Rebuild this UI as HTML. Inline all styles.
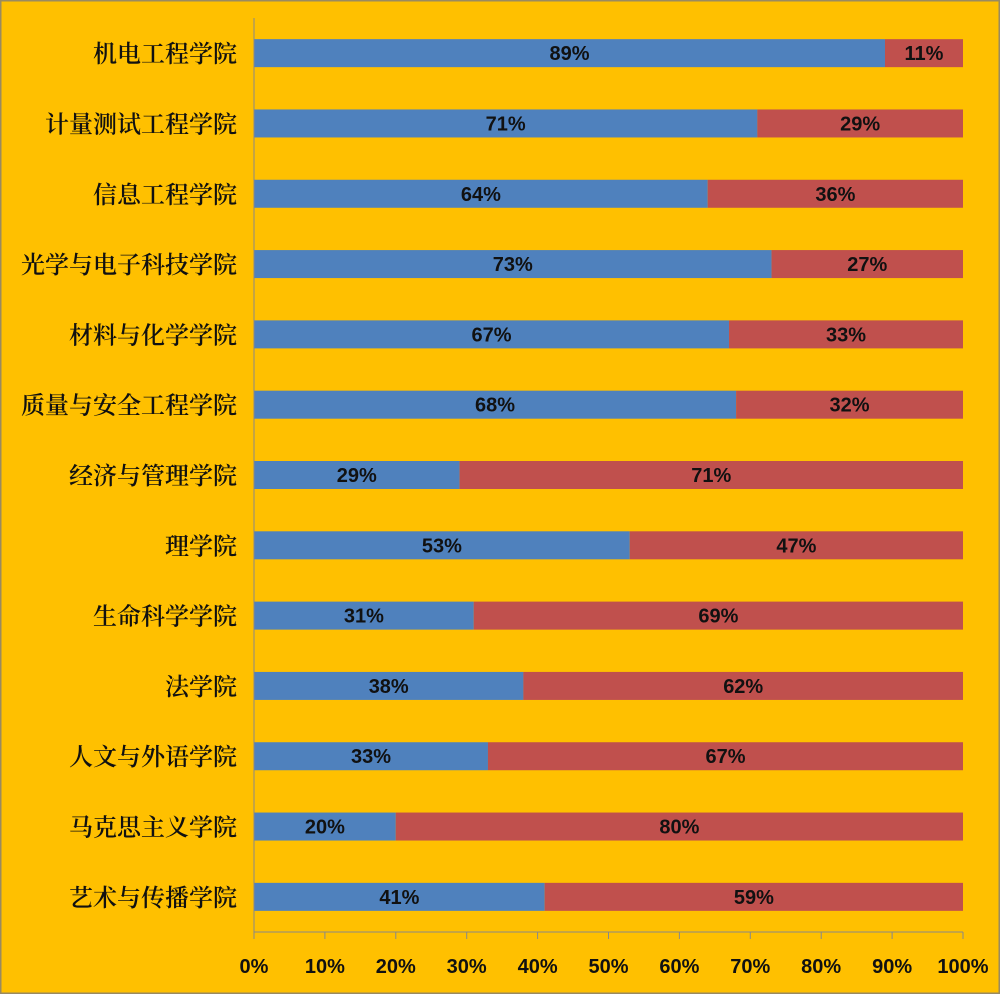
<!DOCTYPE html>
<html><head><meta charset="utf-8"><style>
body{margin:0;background:#FFC000;}
svg{display:block;font-family:"Liberation Sans","Noto Sans CJK SC",sans-serif;}
</style></head><body>
<svg id="c" width="1000" height="994">
<rect x="0" y="0" width="1000" height="994" fill="#FFC000" stroke="#9a8a60" stroke-width="3"/>
<g id="g"></g>
</svg>
<script>
const categories=["机电工程学院","计量测试工程学院","信息工程学院","光学与电子科技学院","材料与化学学院","质量与安全工程学院","经济与管理学院","理学院","生命科学学院","法学院","人文与外语学院","马克思主义学院","艺术与传播学院"];
const seriesA=[89,71,64,73,67,68,29,53,31,38,33,20,41];
const seriesB=[11,29,36,27,33,32,71,47,69,62,67,80,59];
const tickLabels=["0%","10%","20%","30%","40%","50%","60%","70%","80%","90%","100%"];
const ns="http://www.w3.org/2000/svg";
const g=document.getElementById('g');
const x0=254,x1=963,yTop=18,yAxis=932;
const band=(yAxis-yTop)/categories.length;
const xs=v=>x0+(v/100)*(x1-x0);
const yc=i=>yTop+band*(i+0.5);
function mk(t,a){const e=document.createElementNS(ns,t);for(const k in a)e.setAttribute(k,a[k]);g.appendChild(e);return e;}
categories.forEach((c,i)=>{
  const y=yc(i),h=28;
  const b1=mk('rect',{x:xs(0),y:y-h/2,width:xs(seriesA[i])-xs(0),height:h,fill:'#4F81BD'});
  
  
  const b2=mk('rect',{x:xs(seriesA[i]),y:y-h/2,width:xs(seriesA[i]+seriesB[i])-xs(seriesA[i]),height:h,fill:'#C0504D'});
  
  
  const t1=mk('text',{x:(xs(0)+xs(seriesA[i]))/2,y:y+7,'text-anchor':'middle','font-size':20,'font-weight':'bold',fill:'#111'});
  t1.textContent=seriesA[i]+'%';
  
  
  const t2=mk('text',{x:(xs(seriesA[i])+xs(seriesA[i]+seriesB[i]))/2,y:y+7,'text-anchor':'middle','font-size':20,'font-weight':'bold',fill:'#111'});
  t2.textContent=seriesB[i]+'%';
  
  
  const lb=mk('text',{x:237,y:y+9,'text-anchor':'end','font-size':24,'font-weight':600,fill:'#111','font-family':'"Noto Serif CJK SC","Noto Sans CJK SC",serif'});
  lb.textContent=c;
  
  
});
const ya=mk('line',{x1:x0,y1:yTop,x2:x0,y2:yAxis,stroke:'#888','stroke-width':1});


const xa=mk('line',{x1:x0,y1:yAxis,x2:x1,y2:yAxis,stroke:'#888','stroke-width':1});


tickLabels.forEach((t,i)=>{
  const x=xs(i*10);
  const tk=mk('line',{x1:x,y1:yAxis,x2:x,y2:yAxis+7,stroke:'#888'});
  
  
  const tl=mk('text',{x:x,y:973,'text-anchor':'middle','font-size':20,'font-weight':'bold',fill:'#111'});
  tl.textContent=t;
  
  
});
</script>
</body></html>
